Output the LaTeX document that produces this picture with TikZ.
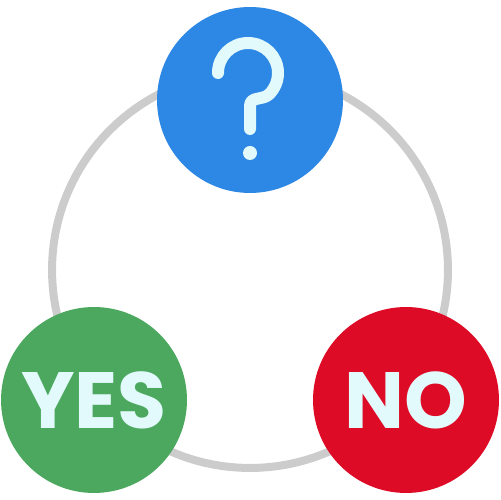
\documentclass[tikz,border=0pt]{standalone}
\usepackage{fontspec}
\setmainfont{Poppins}
\definecolor{qblue}{HTML}{2D87E5}
\definecolor{ygreen}{HTML}{4BA85E}
\definecolor{nred}{HTML}{DD0B26}
\definecolor{ringgray}{HTML}{CCCCCC}
\definecolor{glyph}{HTML}{E2FAFC}
\tikzset{
  bubble/.style={circle, inner sep=0pt, minimum size=3.72cm, text=glyph,
    font=\fontsize{45.4}{50}\selectfont\bfseries},
  ring/.style={draw=ringgray, line width=0.16cm},
  qstroke/.style={draw=glyph, line width=0.24cm, line cap=round, line join=round}
}
\begin{document}
\begin{tikzpicture}[x=0.02cm,y=0.02cm]
\useasboundingbox (0,0) rectangle (500,500);
\node[circle, ring, minimum size=7.92cm, inner sep=0pt] (cyc) at (250,230) {};
\node[bubble, fill=qblue] (q) at (250,400) {};
\node[bubble, fill=ygreen] (yes) at (94,100) {YES};
\node[bubble, fill=nred] (no) at (406,100) {NO};
\coordinate (qs) at (218,427);
\path[qstroke] (qs) arc[start angle=180, end angle=-45, radius=30]
   .. controls +(-135:9) and (250,404) .. (250,394) -- (250,371);
\fill[glyph] (250,347) circle[radius=7];
\end{tikzpicture}
\end{document}
